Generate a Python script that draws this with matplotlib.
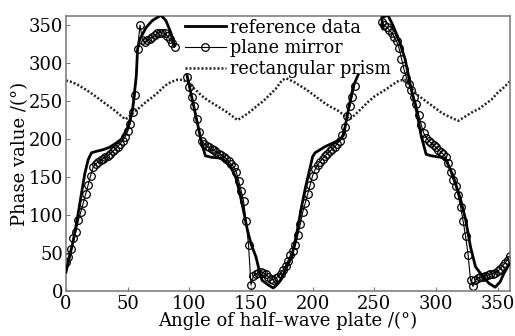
import numpy as np
import matplotlib
matplotlib.use("Agg")
import matplotlib.pyplot as plt

nan = np.nan

# reference data (thick solid line), NaN marks phase wrap gaps
ref_x = [0, 6, 10, 12.6, 15.3, 18, 20.7, 25, 30, 35, 40, 45, 50, 52, 54, 57, 58, 59.7,
         65, 70, 77, 81, 85, 88, nan,
         98, 102, 106, 110, 113, 118, 125, 130, 134, 138, 141, 144, 147, 150, 154, 157,
         159, 164, 168, 171, 174, 178, 183, 187, 191, 194, 197, 200, 202, 206, 210,
         214, 218, 222, 225, 227, 229, 233, 237, nan,
         257, 256, 261, 265, 270, 275, 280, 284, 288, 291, 292, 296, 300, 304, 308,
         314, 320, 324, 328, 332, 338, 343, 348, 352, 355, 360]
ref_y = [25, 67, 103, 129, 155, 173, 182, 184, 186, 189, 194, 200, 215, 226, 239, 283, 318, 331,
         347, 356, 363, 356, 340, 323, nan,
         285, 255, 225, 195, 178, 176, 175, 170, 162, 148, 128, 105, 81, 62, 45, 25,
         14, 8, 4, 8, 14, 28, 45, 75, 111, 135, 156, 177, 182, 186, 190,
         193, 196, 199, 205, 222, 239, 270, 285, nan,
         345, 360, 363, 350, 330, 305, 265, 239, 204, 186, 180, 178, 177, 176, 173,
         151, 120, 94, 58, 32, 19, 10, 5, 12, 23, 37]

# plane mirror (thin line with circles), sampled every 2 degrees
pm_x = np.arange(0, 361, 2)
pm_y = [38, 45, 55, 70, 78, 93, 104, 116, 128, 140, 152, 163, 167, 170, 172, 174, 176, 178,
        181, 184, 187, 190, 194, 198, 203, 210, 220, 235, 258, 318, 350, 330, 328, 330,
        332, 334, 337, 339, 340, 340, 339, 336, 332, 327, 321, nan, nan, nan, nan, 282,
        268, 255, 243, 226, 209, 198, 194, 191, 189, 187, 185, 183, 181, 179, 177, 174,
        171, 167, 163, 157, 145, 132, 118, 92, 60, 8, 20, 22, 24, 25, 24, 22,
        19, 16, 15, 17, 19, 23, 28, 33, 40, 47, 53, 60, 74, 88, 104, 116,
        128, 140, 152, 160, 166, 170, 174, 178, 181, 184, 187, 190, 194, 198, 206, 216,
        230, 243, 256, 270, nan, nan, nan, nan, nan, nan, nan, nan, nan, nan, 354, 350,
        347, 344, 340, 335, 329, 320, 306, 292, 281, 272, 264, 256, 246, 232, 219, 208,
        202, 198, 195, 192, 189, 186, 183, 180, 176, 168, 156, 146, 138, 126, 110, 92,
        72, 48, 14, 6, 14, 17, 18, 19, 20, 21, 22, 23, 24, 26, 29, 33,
        37, 41, 46]

# rectangular prism (dotted line)
rp_x = [0, 5, 10, 15, 20, 25, 30, 35, 40, 45, 48, 50, 55, 60, 65, 70, 75, 80, 85, 90, 95,
        100, 105, 110, 115, 120, 125, 130, 135, 139, 145, 150, 155, 160, 165, 170, 175,
        178, 180, 185, 190, 195, 200, 205, 210, 215, 220, 225, 230, 235, 240, 245, 250,
        255, 260, 265, 270, 275, 280, 285, 290, 295, 300, 305, 310, 318, 320, 325, 330,
        335, 340, 345, 350, 355, 360]
rp_y = [277, 275, 271, 266, 261, 255, 249, 243, 237, 230, 226, 228, 235, 242, 249, 255,
        262, 270, 275, 278, 278, 272, 265, 257, 251, 246, 241, 236, 230, 225, 231, 237,
        244, 250, 258, 266, 277, 280, 279, 275, 270, 265, 259, 253, 247, 242, 238, 232,
        226, 233, 241, 249, 256, 261, 266, 272, 277, 278, 267, 258, 252, 246, 240, 234,
        230, 224, 226, 231, 236, 240, 246, 252, 261, 268, 276]

xticks = [0, 50, 100, 150, 200, 250, 300, 350]
yticks = [0, 50, 100, 150, 200, 250, 300, 350]

plt.rcParams['font.family'] = ['DejaVu Serif']
plt.rcParams['mathtext.fontset'] = 'dejavuserif'

FS = 13.0

fig = plt.figure(figsize=(5.15, 3.36), dpi=100)
ax = fig.add_axes([66 / 515, 45 / 336, 444 / 515, 275 / 336])

ax.plot(ref_x, ref_y, color='black', lw=2.0, label='reference data', zorder=3)
ax.plot(pm_x, pm_y, color='black', lw=0.8, marker='o', markersize=5.5,
        markerfacecolor='none', markeredgewidth=0.9, label='plane mirror', zorder=2)
ax.plot(rp_x, rp_y, color='#222222', lw=1.8, linestyle=(0, (0.8, 0.8)),
        label='rectangular prism', zorder=2)

ax.set_xlim(0, 360)
ax.set_ylim(0, 362)
ax.set_xticks(xticks)
ax.set_yticks(yticks)
ax.tick_params(direction='in', length=3, labelsize=FS, color='#777777')
ax.tick_params(axis='x', pad=3)
ax.tick_params(axis='y', pad=2)
for s in ax.spines.values():
    s.set_color('#808080')
    s.set_linewidth(1.2)

ax.set_xlabel('Angle of half\u2013wave plate /(°)', fontsize=FS, labelpad=-1)
ax.set_ylabel('Phase value /(°)', fontsize=FS, labelpad=0)

leg = ax.legend(loc='upper left', bbox_to_anchor=(0.262, 1.0), fontsize=12.7,
                frameon=False, handlelength=2.3, handletextpad=0.25,
                labelspacing=0.16, borderpad=0.15, borderaxespad=0)
leg.set_zorder(5)

fig.savefig('out.png', dpi=100)
